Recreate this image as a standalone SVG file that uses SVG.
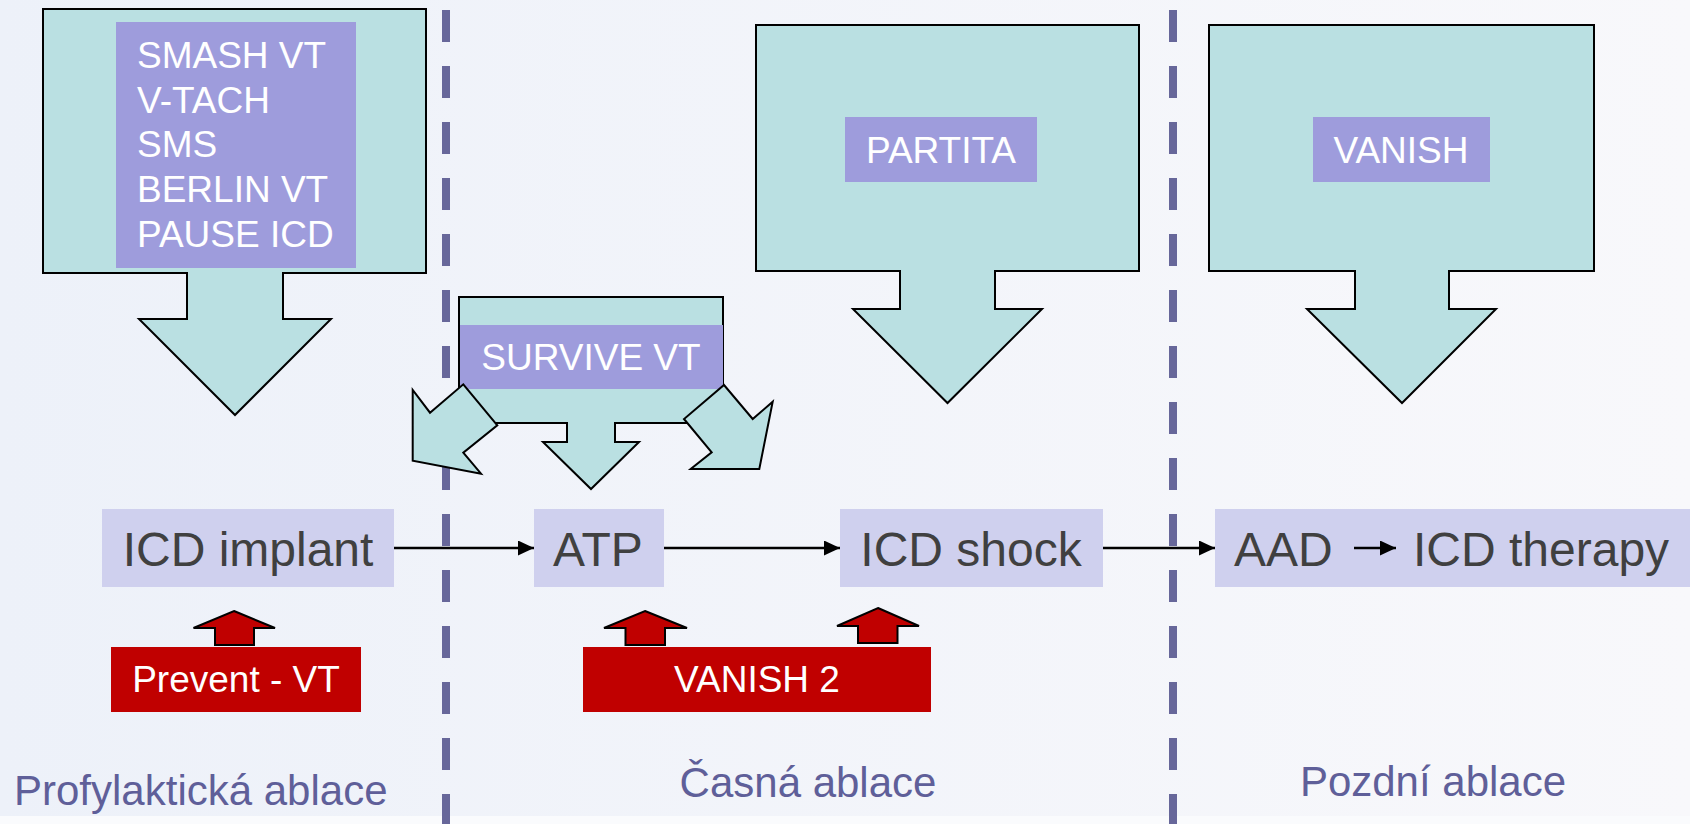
<svg xmlns="http://www.w3.org/2000/svg" width="1690" height="824" viewBox="0 0 1690 824">
<defs>
<linearGradient id="bg" x1="0" y1="0" x2="1" y2="0">
<stop offset="0" stop-color="#edf1f9"/>
<stop offset="1" stop-color="#f8f8fb"/>
</linearGradient>
<marker id="ah" markerUnits="userSpaceOnUse" markerWidth="16" markerHeight="15" refX="16" refY="7.5" orient="auto">
<path d="M0,0 L16,7.5 L0,15 Z" fill="#000"/>
</marker>
<style>
.teal{fill:#bae0e2;stroke:#000;stroke-width:2;stroke-linejoin:miter}
.lbl{fill:#9e9cdc}
.wt{font-family:"Liberation Sans",Arial,sans-serif;font-size:37px;fill:#ffffff}
.box{fill:#cfd0ee}
.bt{font-family:"Liberation Sans",Arial,sans-serif;font-size:48px;fill:#404040}
.red{fill:#c00000}
.redarr{fill:#c00000;stroke:#000;stroke-width:2}
.sep{stroke:#67679a;stroke-width:8;stroke-dasharray:32 24;fill:none}
.phase{font-family:"Liberation Sans",Arial,sans-serif;font-size:42px;fill:#5f5f99}
.conn{stroke:#000;stroke-width:2.4;fill:none;marker-end:url(#ah)}
</style>
</defs>
<rect x="0" y="0" width="1690" height="824" fill="url(#bg)"/>
<rect x="0" y="816" width="1690" height="8" fill="#fafbfd"/>

<g id="separators">
<line class="sep" x1="446" y1="10" x2="446" y2="824"/>
<line class="sep" x1="1173" y1="10" x2="1173" y2="824"/>
</g>

<g id="trials-prophylactic">
<path class="teal" d="M43,9 H426 V273 H283 V319 H331 L235,415 L139,319 H187 V273 H43 Z"/>
<rect class="lbl" x="116" y="22" width="240" height="246"/>
<text class="wt" x="137" y="68">SMASH VT</text>
<text class="wt" x="137" y="113">V-TACH</text>
<text class="wt" x="137" y="157">SMS</text>
<text class="wt" x="137" y="202">BERLIN VT</text>
<text class="wt" x="137" y="247">PAUSE ICD</text>
</g>

<g id="trial-survive">
<path class="teal" d="M459,297 H723 V423 H615 V442 H639 L591,489 L543,442 H567 V423 H459 Z"/>
<rect class="lbl" x="460" y="325" width="263" height="64"/>
<text class="wt" x="591" y="370" text-anchor="middle">SURVIVE VT</text>
<polygon class="teal" points="463.3,384.3 497.3,425.3 463.3,452.7 481,473.7 412.7,460.7 412.7,390 430,412.7"/>
<polygon class="teal" points="724,385 752.7,419 772.7,401.7 759.3,469 690.7,469 711.7,452.3 684,419"/>
</g>

<g id="trial-partita">
<path class="teal" d="M756,25 H1139 V271 H995 V309 H1042 L947.5,403 L853,309 H900 V271 H756 Z"/>
<rect class="lbl" x="845" y="117" width="192" height="65"/>
<text class="wt" x="941" y="163" text-anchor="middle">PARTITA</text>
</g>

<g id="trial-vanish">
<path class="teal" d="M1209,25 H1594 V271 H1449 V309 H1496 L1402,403 L1307,309 H1355 V271 H1209 Z"/>
<rect class="lbl" x="1313" y="117" width="177" height="65"/>
<text class="wt" x="1401" y="163" text-anchor="middle">VANISH</text>
</g>

<g id="node-icd-implant">
<rect class="box" x="102" y="509" width="292" height="78"/>
<text class="bt" x="248" y="566" text-anchor="middle">ICD implant</text>
</g>
<g id="node-atp">
<rect class="box" x="534" y="509" width="130" height="78"/>
<text class="bt" x="598" y="566" text-anchor="middle">ATP</text>
</g>
<g id="node-icd-shock">
<rect class="box" x="840" y="509" width="263" height="78"/>
<text class="bt" x="971" y="566" text-anchor="middle">ICD shock</text>
</g>
<g id="node-aad-therapy">
<rect class="box" x="1215" y="509" width="475" height="78"/>
<text class="bt" x="1234" y="566">AAD</text>
<text class="bt" x="1413" y="566">ICD therapy</text>
</g>

<g id="connectors">
<line class="conn" x1="394" y1="548" x2="534" y2="548"/>
<line class="conn" x1="664" y1="548" x2="840" y2="548"/>
<line class="conn" x1="1103" y1="548" x2="1215" y2="548"/>
<line class="conn" x1="1354" y1="548" x2="1396" y2="548"/>
</g>

<g id="trial-prevent-vt">
<path class="redarr" d="M234,611 L275,628 H254 V645 H215 V628 H193.5 Z"/>
<rect class="red" x="111" y="647" width="250" height="65"/>
<text class="wt" x="236" y="692">
<tspan text-anchor="middle">Prevent - VT</tspan></text>
</g>

<g id="trial-vanish2">
<path class="redarr" d="M645,611 L687,628 H665 V645 H625.5 V628 H604 Z"/>
<path class="redarr" d="M878,608 L919,626 H897.5 V643 H858 V626 H837 Z"/>
<rect class="red" x="583" y="647" width="348" height="65"/>
<text class="wt" x="757" y="692" text-anchor="middle">VANISH 2</text>
</g>

<g id="phase-labels">
<text class="phase" x="14" y="805">Profylaktická ablace</text>
<text class="phase" x="808" y="797" text-anchor="middle">Časná ablace</text>
<text class="phase" x="1433" y="796" text-anchor="middle">Pozdní ablace</text>
</g>
</svg>
